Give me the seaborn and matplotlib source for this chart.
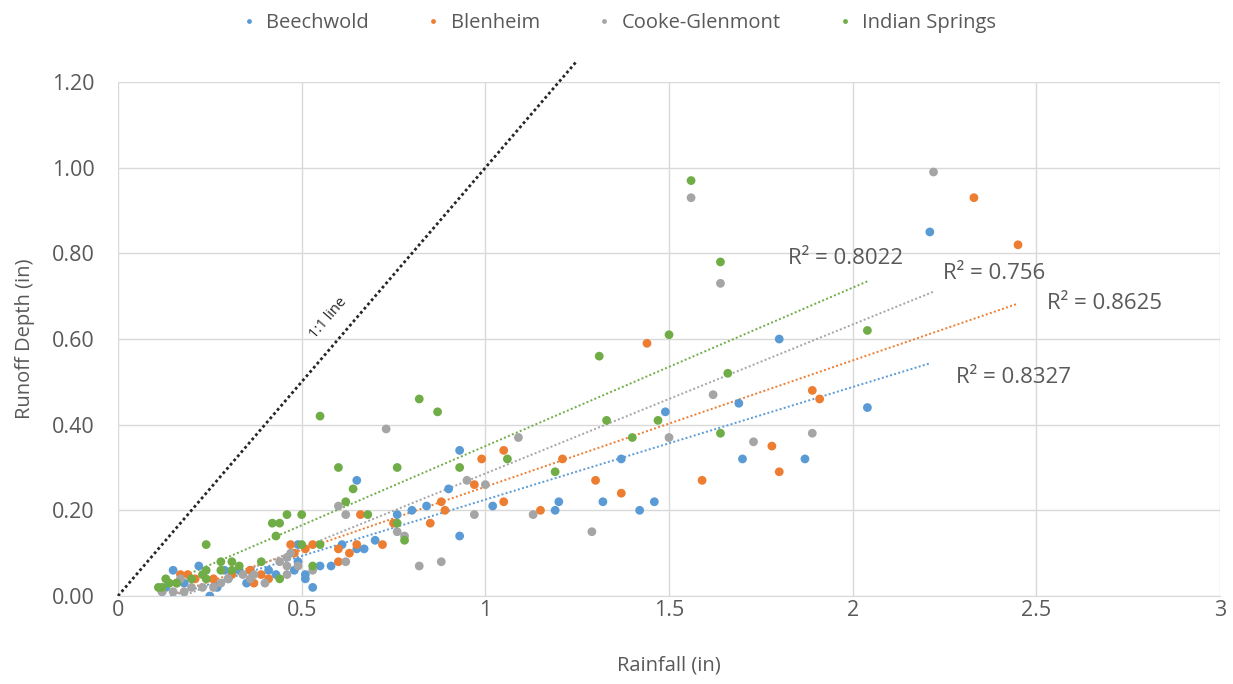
import numpy as np
import pandas as pd
import matplotlib
matplotlib.use("Agg")
import matplotlib.pyplot as plt
from matplotlib.ticker import FuncFormatter, MultipleLocator
import seaborn as sns

# rainfall (in) / runoff depth (in)
beech_x = [2.21, 1.80, 2.04, 1.69, 1.49, 1.37, 1.70, 1.87, 1.32, 1.46, 1.42, 0.93, 0.65, 0.90, 1.02,
           0.80, 0.84, 0.76, 1.19, 1.20, 0.70, 0.93, 0.61, 0.65, 0.67, 0.58, 0.49, 0.15, 0.22, 0.12,
           0.25, 0.27, 0.33, 0.36, 0.41, 0.43, 0.48, 0.51, 0.35, 0.49, 0.53, 0.51, 0.55, 0.30, 0.18,
           0.13, 0.29]
beech_y = [0.85, 0.60, 0.44, 0.45, 0.43, 0.32, 0.32, 0.32, 0.22, 0.22, 0.20, 0.34, 0.27, 0.25, 0.21,
           0.20, 0.21, 0.19, 0.20, 0.22, 0.13, 0.14, 0.12, 0.11, 0.11, 0.07, 0.12, 0.06, 0.07, 0.01,
           0.00, 0.02, 0.06, 0.06, 0.06, 0.05, 0.06, 0.05, 0.03, 0.08, 0.02, 0.04, 0.07, 0.04, 0.03,
           0.02, 0.06]

blen_x = [2.33, 2.45, 1.44, 1.89, 1.91, 1.78, 1.80, 1.59, 1.30, 1.37, 1.05, 0.99, 1.21, 0.97, 1.05,
          0.88, 0.89, 0.66, 0.75, 0.85, 1.15, 0.72, 0.65, 0.60, 0.63, 0.60, 0.47, 0.51, 0.31, 0.36,
          0.39, 0.41, 0.26, 0.37, 0.19, 0.21, 0.53, 0.48, 0.17, 0.16]
blen_y = [0.93, 0.82, 0.59, 0.48, 0.46, 0.35, 0.29, 0.27, 0.27, 0.24, 0.34, 0.32, 0.32, 0.26, 0.22,
          0.22, 0.20, 0.19, 0.17, 0.17, 0.20, 0.12, 0.12, 0.11, 0.10, 0.08, 0.12, 0.11, 0.05, 0.06,
          0.05, 0.04, 0.04, 0.03, 0.05, 0.04, 0.12, 0.10, 0.05, 0.03]

cooke_x = [2.22, 1.56, 1.64, 1.62, 1.50, 1.73, 1.89, 0.73, 1.09, 0.95, 1.00, 0.60, 0.62, 0.76, 0.97,
           1.13, 1.29, 0.78, 0.82, 0.88, 0.62, 0.47, 0.44, 0.46, 0.34, 0.37, 0.46, 0.49, 0.23, 0.28,
           0.30, 0.40, 0.36, 0.17, 0.15, 0.18, 0.53, 0.46, 0.12, 0.20, 0.26]
cooke_y = [0.99, 0.93, 0.73, 0.47, 0.37, 0.36, 0.38, 0.39, 0.37, 0.27, 0.26, 0.21, 0.19, 0.15, 0.19,
           0.19, 0.15, 0.14, 0.07, 0.08, 0.08, 0.10, 0.08, 0.09, 0.05, 0.05, 0.07, 0.07, 0.02, 0.03,
           0.04, 0.03, 0.04, 0.04, 0.01, 0.01, 0.06, 0.05, 0.01, 0.02, 0.02]

indian_x = [1.56, 1.64, 1.50, 1.31, 2.04, 1.66, 1.47, 1.33, 1.40, 1.64, 0.82, 0.87, 0.55, 1.06, 0.60,
            0.76, 0.93, 1.19, 0.64, 0.62, 0.68, 0.76, 0.78, 0.24, 0.42, 0.44, 0.46, 0.50, 0.43, 0.39,
            0.28, 0.31, 0.33, 0.28, 0.31, 0.44, 0.24, 0.24, 0.13, 0.11, 0.23, 0.16, 0.50, 0.55, 0.53,
            0.12, 0.14, 0.20]
indian_y = [0.97, 0.78, 0.61, 0.56, 0.62, 0.52, 0.41, 0.41, 0.37, 0.38, 0.46, 0.43, 0.42, 0.32, 0.30,
            0.30, 0.30, 0.29, 0.25, 0.22, 0.19, 0.17, 0.13, 0.12, 0.17, 0.17, 0.19, 0.19, 0.14, 0.08,
            0.08, 0.08, 0.07, 0.06, 0.06, 0.04, 0.06, 0.04, 0.04, 0.02, 0.05, 0.03, 0.12, 0.12, 0.07,
            0.02, 0.03, 0.04]

sites = ["Beechwold", "Blenheim", "Cooke-Glenmont", "Indian Springs"]
colors = ["#5B9BD5", "#ED7D31", "#A5A5A5", "#70AD47"]

# linear trendlines (slope, intercept) and their R² labels
trend_slope = [0.263, 0.295, 0.348, 0.370]
trend_icpt = [-0.038, -0.040, -0.062, -0.020]
r2_text = ["R² = 0.8327", "R² = 0.8625", "R² = 0.756", "R² = 0.8022"]
r2_pos = [(2.28, 0.511), (2.53, 0.684), (2.245, 0.754), (1.825, 0.789)]

xs = [beech_x, blen_x, cooke_x, indian_x]
ys = [beech_y, blen_y, cooke_y, indian_y]

df = pd.concat(
    [pd.DataFrame({"Rainfall": x, "Runoff": y, "Site": s}) for x, y, s in zip(xs, ys, sites)],
    ignore_index=True,
)

sns.set_style("white")
plt.rcParams["font.family"] = ["Open Sans", "DejaVu Sans"]
text_col = "#595959"
grid_col = "#D9D9D9"

fig, ax = plt.subplots(figsize=(12.33, 6.84), dpi=100)
fig.subplots_adjust(left=0.0957, right=0.9895, bottom=0.1287, top=0.880)

sns.scatterplot(
    data=df, x="Rainfall", y="Runoff", hue="Site", hue_order=sites,
    palette=colors, s=40, edgecolor="none", linewidth=0, ax=ax, zorder=3,
)

for x, slope, icpt, c in zip(xs, trend_slope, trend_icpt, colors):
    tx = np.array([min(x), max(x)])
    ax.plot(tx, slope * tx + icpt, color=c, linestyle=(0, (1, 1.2)), linewidth=1.4, zorder=2)

for t, (px, py) in zip(r2_text, r2_pos):
    ax.text(px, py, t, fontsize=16, color=text_col, ha="left", va="center")

# 1:1 line
ax.plot([0, 1.25], [0, 1.25], color="#262626", linestyle=(0, (1, 1)), linewidth=2.0,
        clip_on=False, zorder=2)
ax.text(0.572, 0.649, "1:1 line", fontsize=10.5, color="#262626", rotation=49.4,
        rotation_mode="anchor", ha="center", va="center")

ax.set_xlim(0, 3)
ax.set_ylim(0, 1.2)
ax.xaxis.set_major_locator(MultipleLocator(0.5))
ax.yaxis.set_major_locator(MultipleLocator(0.2))
ax.xaxis.set_major_formatter(FuncFormatter(lambda v, p: f"{v:g}"))
ax.yaxis.set_major_formatter(FuncFormatter(lambda v, p: f"{v:.2f}"))
ax.grid(True, color=grid_col, linewidth=1.0)
ax.set_axisbelow(True)
for side in ["top", "right", "left"]:
    ax.spines[side].set_visible(False)
ax.spines["bottom"].set_color(grid_col)
ax.tick_params(axis="both", length=0, labelsize=15.5, labelcolor=text_col)
ax.tick_params(axis="y", pad=17)
ax.tick_params(axis="x", pad=3)

ax.set_xlabel("Rainfall (in)", fontsize=14.5, color=text_col, labelpad=25)
ax.set_ylabel("Runoff Depth (in)", fontsize=14.5, color=text_col, labelpad=12)

handles, labels = ax.get_legend_handles_labels()
ax.legend_.remove()
fig.legend(handles, labels, loc="upper center", bbox_to_anchor=(0.5, 1.008), ncol=4,
           frameon=False, fontsize=14.5, markerscale=0.55, handletextpad=0.25,
           handlelength=1.2, columnspacing=2.6, labelcolor=text_col)

plt.savefig("out.png", dpi=100)
